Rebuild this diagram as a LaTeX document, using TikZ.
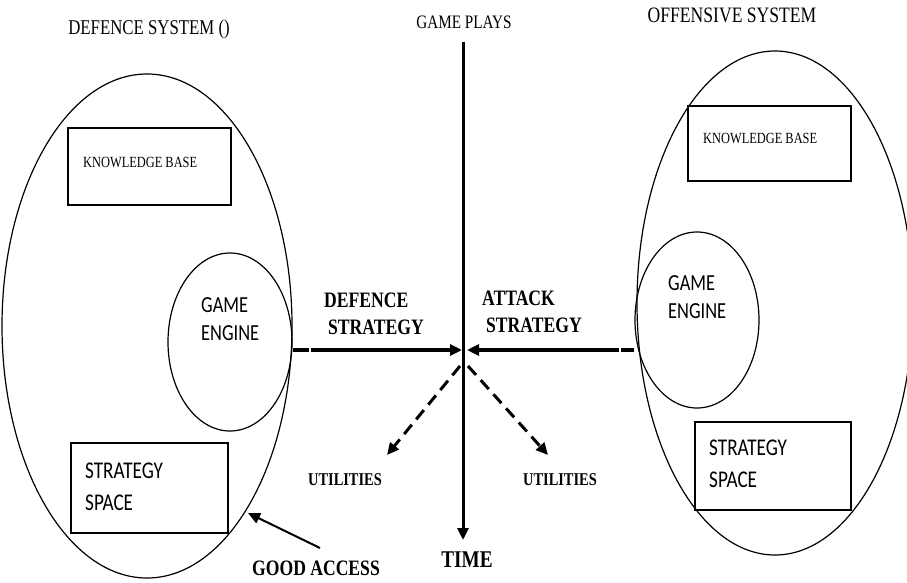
\documentclass[tikz,border=0pt]{standalone}
\usepackage{fontspec}
\newfontfamily\tmsfont[FakeStretch=0.8]{Liberation Serif}
\newfontfamily\calfont[FakeStretch=0.8]{Carlito}
\usetikzlibrary{arrows.meta,shapes.geometric}
\tikzset{
  oval/.style={draw, ellipse, line width=1.2pt, inner sep=0pt},
  box/.style={draw, rectangle, line width=1.4pt, inner sep=0pt},
  lbl/.style={inner sep=0pt, font=\tmsfont},
  blbl/.style={inner sep=0pt, font=\tmsfont\bfseries},
  clbl/.style={inner sep=0pt, font=\calfont, align=left},
  solidarrow/.style={line width=#1, -{Triangle[length=12pt,width=11pt]}},
  dasharrow/.style={line width=3pt, dash pattern=on 12pt off 7pt, -{Triangle[length=12pt,width=11pt]}},
}
\begin{document}
\begin{tikzpicture}[x=1pt,y=-1pt]
\useasboundingbox (0,0) rectangle (907,583);
\fill[white] (0,0) rectangle (907,583);

% defence system
\node[oval, minimum width=290pt, minimum height=504pt] (lsys) at (147,326) {};
\node[box, minimum width=163pt, minimum height=77pt] (lkb) at (149.5,166.5) {};
\node[oval, minimum width=124pt, minimum height=178pt] (lge) at (230,342) {};
\node[box, minimum width=157pt, minimum height=90pt] (lss) at (149.5,488) {};

% offensive system
\node[oval, minimum width=276pt, minimum height=504pt] (rsys) at (775,303) {};
\node[box, minimum width=163pt, minimum height=75pt] (rkb) at (769.5,143.5) {};
\node[oval, minimum width=124pt, minimum height=176pt] (rge) at (697,320) {};
\node[box, minimum width=156pt, minimum height=88pt] (rss) at (773,466) {};

% titles
\node[lbl, anchor=base, font=\tmsfont\fontsize{21}{24}\selectfont] (dsys) at (149,35) {DEFENCE SYSTEM ()};
\node[lbl, anchor=base, font=\tmsfont\fontsize{22}{24}\selectfont] (osys) at (732,23) {OFFENSIVE SYSTEM};
\node[lbl, anchor=base, font=\tmsfont\fontsize{19}{22}\selectfont] (gp) at (464,29) {GAME PLAYS};

% inner texts
\node[lbl, anchor=base west, font=\tmsfont\fontsize{15.5}{18}\selectfont] (lkbt) at (83,167) {KNOWLEDGE BASE};
\node[lbl, anchor=base west, font=\tmsfont\fontsize{15.5}{18}\selectfont] (rkbt) at (703,143) {KNOWLEDGE BASE};
\node[clbl, anchor=north west, font=\calfont\fontsize{23}{28}\selectfont] (lget) at (201,297) {GAME\\ENGINE};
\node[clbl, anchor=north west, font=\calfont\fontsize{23}{28}\selectfont] (rget) at (668,275) {GAME\\ENGINE};
\node[clbl, anchor=north west, font=\calfont\fontsize{24}{32}\selectfont] (lsst) at (85,463) {STRATEGY\\SPACE};
\node[clbl, anchor=north west, font=\calfont\fontsize{24}{32}\selectfont] (rsst) at (709,440) {STRATEGY\\SPACE};

% strategy labels
\node[blbl, anchor=north west, align=left, font=\tmsfont\bfseries\fontsize{22}{27}\selectfont] (dstr) at (324,293) {DEFENCE\\\hspace*{4pt}STRATEGY};
\node[blbl, anchor=north west, align=left, font=\tmsfont\bfseries\fontsize{22}{27}\selectfont] (astr) at (482,291) {ATTACK\\\hspace*{4pt}STRATEGY};

\node[blbl, anchor=base, font=\tmsfont\bfseries\fontsize{18}{20}\selectfont] (lut) at (345,485) {UTILITIES};
\node[blbl, anchor=base, font=\tmsfont\bfseries\fontsize{18}{20}\selectfont] (rut) at (560,485) {UTILITIES};
\node[blbl, anchor=base, font=\tmsfont\bfseries\fontsize{24}{26}\selectfont] (time) at (467,567) {TIME};
\node[blbl, anchor=base, font=\tmsfont\bfseries\fontsize{22}{24}\selectfont] (gacc) at (316,575) {GOOD ACCESS};

% connectors
\coordinate (vtop) at (463,42);
\coordinate (vbot) at (463,540);
\coordinate (hub) at (464,350);
\coordinate (dstart) at (460,366);
\coordinate (astart) at (468,366);
\coordinate (ltip) at (387,455);
\coordinate (rtip) at (548,455);
\coordinate (gtail) at (320,548);
\coordinate (gtip) at (248,513);

\draw[solidarrow=3pt] (vtop) -- (vbot);
\draw[solidarrow=4pt] (lge.east |- hub) -- ([xshift=-2pt]hub);
\draw[solidarrow=4pt] (rge.west |- hub) -- ([xshift=3pt]hub);
\draw[white, line width=2pt] (310,346) -- (310,354);
\draw[white, line width=2pt] (620,346) -- (620,354);
\draw[dasharrow] (dstart) -- (ltip);
\draw[dasharrow] (astart) -- (rtip);
\draw[solidarrow=2pt] (gtail) -- (gtip);
\end{tikzpicture}
\end{document}
